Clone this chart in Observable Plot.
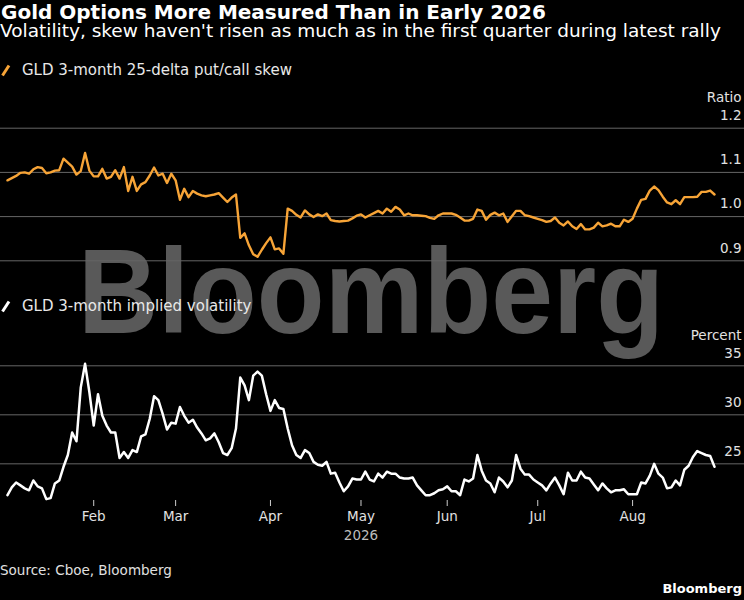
<!DOCTYPE html>
<html>
<head>
<meta charset="utf-8">
<script src="https://cdn.jsdelivr.net/npm/d3@7"></script>
<script src="https://cdn.jsdelivr.net/npm/@observablehq/plot@0.6"></script>
<style>
  html, body { margin: 0; padding: 0; background: #000; }
  #chart { position: relative; width: 744px; height: 600px; background: #000; overflow: hidden;
           font-family: "DejaVu Sans", sans-serif; color: #fff; }
  .t { position: absolute; white-space: nowrap; line-height: 1; }
  .abs { position: absolute; left: 0; }
</style>
</head>
<body>
<div id="chart">
  <svg class="abs" style="top:0" width="744" height="600">
    <text x="78" y="333" font-family="Liberation Sans, Arial, sans-serif" font-weight="bold" font-size="120"
          textLength="586" lengthAdjust="spacingAndGlyphs" fill="#595959">Bloomberg</text>
  </svg>
  <div class="t" style="left:1px;top:2.4px;font-size:20px;font-weight:bold;">Gold Options More Measured Than in Early 2026</div>
  <div class="t" style="left:0px;top:21.6px;font-size:18.5px;">Volatility, skew haven't risen as much as in the first quarter during latest rally</div>
  <svg class="abs" style="left:1px;top:64px" width="10" height="13"><line x1="1.5" y1="11.5" x2="8" y2="1.5" stroke="#f7a437" stroke-width="3"/></svg>
  <div class="t" id="leg1" style="left:22px;top:63.3px;font-size:15px;color:#e8e8e8;"></div>
  <svg class="abs" style="left:1px;top:300px" width="10" height="13"><line x1="1.5" y1="11.5" x2="8" y2="1.5" stroke="#ffffff" stroke-width="3"/></svg>
  <div class="t" id="leg2" style="left:22px;top:299.3px;font-size:15px;color:#e8e8e8;"></div>
  <div id="top" class="abs" style="top:80px"></div>
  <div id="bottom" class="abs" style="top:320px"></div>
  <div class="t" style="left:0px;top:563.6px;font-size:13.5px;color:#e0e0e0;">Source: Cboe, Bloomberg</div>
  <div class="t" style="right:2px;top:582px;font-size:13px;font-weight:bold;color:#fff;">Bloomberg</div>
</div>
<script>
// Series names
const skewName = "GLD 3-month 25-delta put/call skew";
const volName = "GLD 3-month implied volatility";

// Month tick positions (trading-day index of first session of each month, Jan 2 2026 = 0)
const monthIdx = [20, 39, 61, 82, 102, 123, 145];
const monthLabels = ["Feb", "Mar", "Apr", "May", "Jun", "Jul", "Aug"];
const yearIdx = [82];
const yearLabels = ["2026"];

// Y tick values
const skewTicks = [0.9, 1.0, 1.1, 1.2];
const volTicks = [25, 30, 35];

// GLD 3-month 25-delta put/call skew (ratio), daily Jan 2 - Aug 28 2026
const skew = [
  1.082,1.087,1.092,1.099,1.100,1.097,1.107,1.112,1.110,1.098,
  1.100,1.104,1.105,1.131,1.122,1.113,1.095,1.103,1.144,1.104,
  1.091,1.091,1.108,1.086,1.090,1.105,1.086,1.112,1.058,1.090,
  1.058,1.073,1.078,1.093,1.111,1.093,1.097,1.076,1.097,1.082,
  1.038,1.063,1.044,1.058,1.052,1.048,1.046,1.048,1.050,1.053,
  1.043,1.033,1.043,1.050,0.952,0.962,0.935,0.915,0.909,0.925,
  0.940,0.953,0.926,0.928,0.916,1.018,1.013,1.004,0.998,1.014,
  1.005,0.999,1.005,1.001,1.007,0.992,0.990,0.989,0.990,0.991,
  0.996,1.002,1.005,0.998,1.003,1.008,1.013,1.007,1.018,1.011,
  1.022,1.016,1.003,1.007,1.003,1.003,1.002,1.001,0.997,0.995,
  1.003,1.007,1.007,1.007,1.004,0.998,0.991,0.991,0.995,1.016,
  1.013,0.993,1.004,1.009,1.003,1.007,0.988,1.001,1.013,1.013,
  1.003,1.001,0.998,0.995,0.992,0.988,0.990,0.998,0.986,0.980,
  0.989,0.978,0.972,0.983,0.971,0.971,0.975,0.986,0.978,0.980,
  0.984,0.978,0.978,0.993,0.988,0.995,1.018,1.038,1.040,1.059,
  1.068,1.060,1.045,1.032,1.028,1.037,1.028,1.044,1.044,1.044,
  1.045,1.056,1.056,1.059,1.050
];

// GLD 3-month implied volatility (percent), daily Jan 2 - Aug 28 2026
const vol = [
  21.8,22.6,23.1,22.8,22.5,22.3,23.3,22.7,22.5,21.4,
  21.5,23.0,23.3,24.7,25.9,28.2,27.3,32.8,35.2,32.3,
  28.9,32.1,29.9,28.9,28.2,28.2,25.6,26.2,25.6,26.4,
  26.2,27.8,28.0,29.6,31.9,31.5,30.1,28.5,29.2,29.1,
  30.8,29.9,29.2,29.5,28.7,28.1,27.4,27.6,28.1,27.2,
  26.1,25.9,26.6,28.6,33.8,33.0,31.5,34.0,34.4,34.0,
  32.1,30.4,31.5,30.7,30.6,28.6,26.9,25.9,25.6,26.4,
  26.1,25.2,24.9,24.8,25.2,24.0,24.1,23.1,22.2,22.7,
  23.5,23.4,23.4,24.2,23.4,23.2,24.0,23.6,24.2,24.0,
  24.0,23.6,23.5,23.5,23.6,22.8,22.3,21.8,21.8,22.0,
  22.3,22.4,22.7,22.2,22.2,21.8,23.4,23.2,23.5,25.9,
  24.3,23.3,23.0,22.1,23.6,23.2,22.6,23.3,25.9,24.5,
  23.9,23.9,23.4,23.1,22.8,22.3,23.0,23.6,22.8,21.9,
  24.1,23.3,23.3,24.2,23.6,23.5,22.9,22.3,23.0,22.5,
  22.1,22.3,22.3,22.4,21.9,21.9,21.9,23.1,23.0,23.8,
  25.0,24.0,23.6,22.5,22.6,23.3,22.8,24.4,24.8,25.7,
  26.3,26.1,25.9,25.8,24.7
];

document.getElementById("leg1").textContent = skewName;
document.getElementById("leg2").textContent = volName;

const xDomain = [-1.62, 170.96];
const textColor = "#e2e2e2";
const gridColor = "#666666";
const style = { fontFamily: "DejaVu Sans, sans-serif", fontSize: "13.5px", background: "transparent", color: textColor, overflow: "visible" };

const topPlot = Plot.plot({
  width: 744, height: 190,
  marginLeft: 0, marginRight: 0, marginTop: 47.7, marginBottom: 9.7,
  style,
  x: { type: "linear", domain: xDomain, axis: null },
  y: { domain: [0.9, 1.2], axis: null },
  marks: [
    Plot.gridY(skewTicks, { stroke: gridColor, strokeOpacity: 1, strokeWidth: 1 }),
    Plot.axisY(skewTicks, { anchor: "right", tickSize: 0, tickPadding: 0, dx: -3, dy: -12.5,
      textAnchor: "end", tickFormat: d3.format(".1f"), fill: textColor, fontSize: 13.5, label: null }),
    Plot.text(["Ratio"], { frameAnchor: "top-right", lineAnchor: "middle", dx: -3, dy: -30.5, textAnchor: "end", fill: textColor, fontSize: 13.5 }),
    Plot.lineY(skew, { stroke: "#f7a437", strokeWidth: 2.4, strokeLinejoin: "round" })
  ]
});
document.getElementById("top").append(topPlot);

const monthMap = new Map(monthIdx.map((d, i) => [d, monthLabels[i]]));
const bottomPlot = Plot.plot({
  width: 744, height: 230,
  marginLeft: 0, marginRight: 0, marginTop: 45.3, marginBottom: 50,
  style,
  x: { type: "linear", domain: xDomain, axis: null },
  y: { domain: [21.26, 35], axis: null },
  marks: [
    Plot.gridY(volTicks, { stroke: gridColor, strokeOpacity: 1, strokeWidth: 1 }),
    Plot.axisY(volTicks, { anchor: "right", tickSize: 0, tickPadding: 0, dx: -3, dy: -12.5,
      textAnchor: "end", fill: textColor, fontSize: 13.5, label: null }),
    Plot.text(["Percent"], { frameAnchor: "top-right", lineAnchor: "middle", dx: -3, dy: -30.5, textAnchor: "end", fill: textColor, fontSize: 13.5 }),
    Plot.axisX(monthIdx, { anchor: "bottom", tickSize: 6, tickPadding: 5, stroke: "#cccccc",
      tickFormat: d => monthMap.get(d), fill: textColor, fontSize: 13.5, label: null }),
    Plot.text(yearIdx, { x: d => d, text: (d, i) => yearLabels[i], frameAnchor: "bottom", lineAnchor: "middle", dy: 35, fill: "#bdbdbd", fontSize: 13.5 }),
    Plot.lineY(vol, { stroke: "#ffffff", strokeWidth: 2.5, strokeLinejoin: "round" })
  ]
});
document.getElementById("bottom").append(bottomPlot);
</script>
</body>
</html>
